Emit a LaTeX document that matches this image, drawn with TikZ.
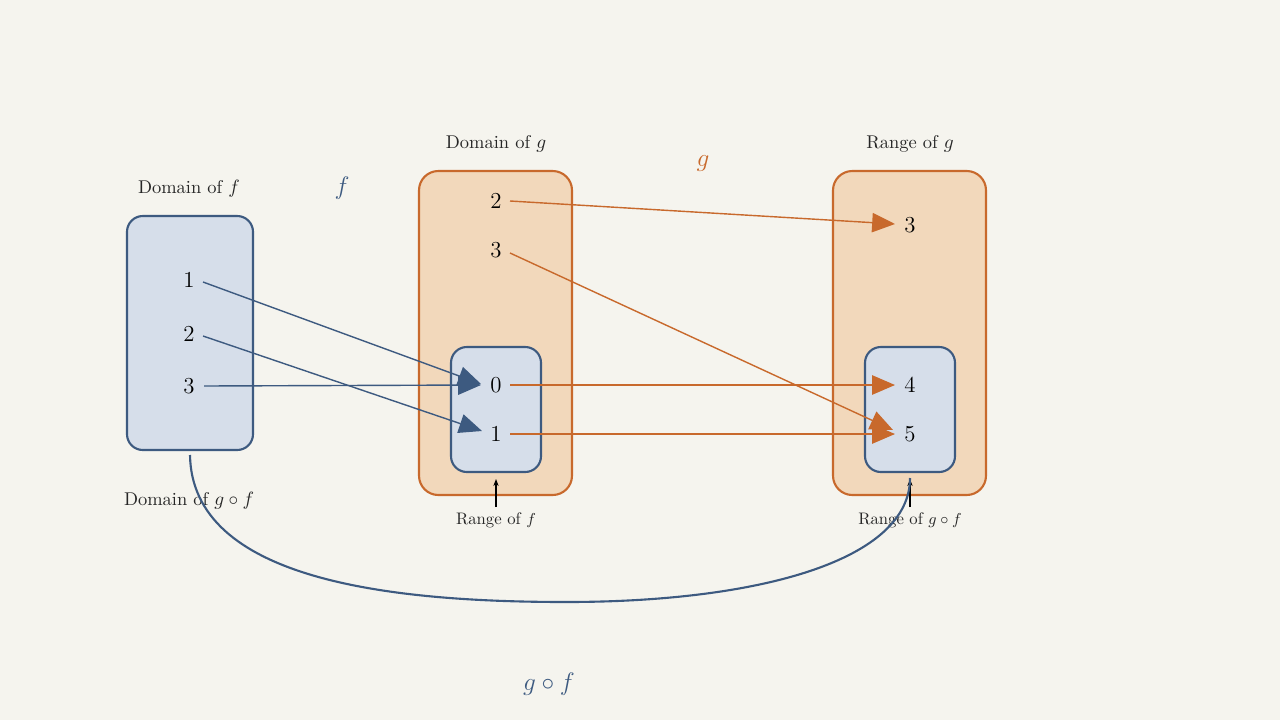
\documentclass[tikz,border=0pt]{standalone}
\usetikzlibrary{arrows.meta}
\definecolor{bg}{HTML}{F5F4EE}
\definecolor{bl}{HTML}{3D5A80}
\definecolor{blf}{HTML}{D6DEEA}
\definecolor{orr}{HTML}{C8692C}
\definecolor{orf}{HTML}{F2D8BB}
\begin{document}
\begin{tikzpicture}[x=0.02cm,y=-0.02cm,
 bbox/.style={draw=bl,fill=blf,line width=1.2pt,rounded corners=9pt},
 obox/.style={draw=orr,fill=orf,line width=1.2pt,rounded corners=11pt},
 num/.style={font=\fontsize{13}{15}\selectfont,inner sep=1pt},
 lab/.style={font=\fontsize{10.5}{12}\selectfont,text=black!85},
 slab/.style={font=\fontsize{9.5}{11}\selectfont,text=black!85},
 barr/.style={draw=bl,line width=0.8pt,-{Triangle[length=13pt,width=11pt]}},
 oarr/.style={draw=orr,line width=0.8pt,-{Triangle[length=13pt,width=11pt]}}]
\fill[bg] (0,0) rectangle (1280,720);
\useasboundingbox (0,0) rectangle (1280,720);
\path[bbox] (127,216) rectangle (253,450);
\path[obox] (419,171) rectangle (572,495);
\path[bbox] (451,347) rectangle (541,472);
\path[obox] (833,171) rectangle (986,495);
\path[bbox] (865,347) rectangle (955,472);
\node[lab] (ldf) at (189,189) {Domain of $f$};
\node[font=\fontsize{14}{16}\selectfont,text=bl] (lf) at (342,188) {$f$};
\node[lab] (ldg) at (496,144) {Domain of $g$};
\node[font=\fontsize{14}{16}\selectfont,text=orr] (lg) at (703,164) {$g$};
\node[lab] (lrg) at (910,144) {Range of $g$};
\node[lab] (ldgf) at (189,501) {Domain of $g\circ f$};
\node[slab] (lrf) at (496,520) {Range of $f$};
\node[slab] (lrgf) at (910,520) {Range of $g\circ f$};
\node[font=\fontsize{15}{17}\selectfont,text=bl] (lgf) at (549,684) {$g\circ f$};
\node[num] (a1) at (189,280) {1};
\node[num] (a2) at (189,334) {2};
\node[num] (a3) at (189,386) {3};
\node[num] (b2) at (496,201) {2};
\node[num] (b3) at (496,250) {3};
\node[num] (b0) at (496,385) {0};
\node[num] (b1) at (496,434) {1};
\node[num] (c3) at (910,225) {3};
\node[num] (c4) at (910,385) {4};
\node[num] (c5) at (910,434) {5};
\coordinate (t0) at (481,384);
\coordinate (t1) at (482,431);
\draw[barr] (203,282) -- (t0);
\draw[barr] (203,336) -- (t1);
\draw[barr] (204,386) -- (481,385);
\draw[oarr] (510,201) -- (895,224);
\draw[oarr] (510,253) -- (893,430);
\draw[oarr] (510,385) -- (895,385);
\draw[oarr] (510,434) -- (895,434);
\coordinate (s1) at (496,507); \coordinate (e1) at (496,479);
\coordinate (s2) at (910,507); \coordinate (e2) at (910,479);
\draw[-{Stealth[length=4pt]},line width=0.6pt] (s1) -- (e1);
\draw[-{Stealth[length=4pt]},line width=0.6pt] (s2) -- (e2);
\coordinate (cs) at (190,455); \coordinate (cm) at (566,602); \coordinate (ce) at (910,478);
\draw[bl,line width=1.2pt] (cs) .. controls (192,580) and (390,602) .. (cm) .. controls (760,602) and (910,560) .. (ce);
\end{tikzpicture}
\end{document}
